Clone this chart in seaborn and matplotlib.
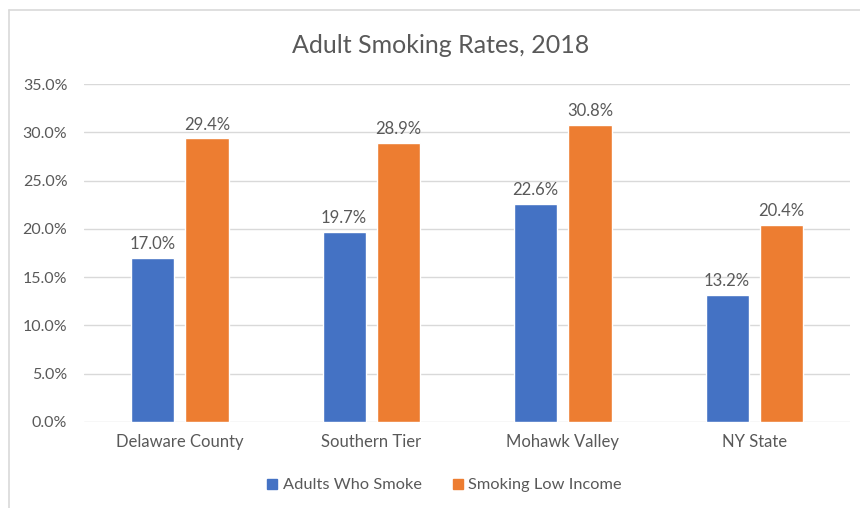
import seaborn as sns
import pandas as pd
import matplotlib.pyplot as plt
from matplotlib.lines import Line2D
from matplotlib.ticker import PercentFormatter

# data
regions = ["Delaware County", "Southern Tier", "Mohawk Valley", "NY State"]
adults_who_smoke = [17.0, 19.7, 22.6, 13.2]
smoking_low_income = [29.4, 28.9, 30.8, 20.4]
series = ["Adults Who Smoke", "Smoking Low Income"]
colors = ["#4472C4", "#ED7D31"]

rows = []
for i, reg in enumerate(regions):
    rows.append({"Region": reg, "Series": series[0], "Rate": adults_who_smoke[i]})
    rows.append({"Region": reg, "Series": series[1], "Rate": smoking_low_income[i]})
df = pd.DataFrame(rows)

sns.set_style("white")
plt.rcParams['font.family'] = ['Lato', 'DejaVu Sans']
gray = "#595959"

fig = plt.figure(figsize=(8.6, 5.08), dpi=100)
ax = fig.add_axes([0.0977, 0.1693, 0.8907, 0.6653])

sns.barplot(data=df, x="Region", y="Rate", hue="Series", palette=colors,
            width=0.569, gap=0.21, ax=ax, legend=False, saturation=1)

for cont in ax.containers:
    ax.bar_label(cont, fmt="%.1f%%", padding=4, color=gray, fontsize=12)

ax.set_ylim(0, 35)
ax.set_yticks([0, 5, 10, 15, 20, 25, 30, 35])
ax.yaxis.set_major_formatter(PercentFormatter(decimals=1))
ax.set_xlim(-0.5, 3.5)
ax.grid(axis="y", color="#D9D9D9", linewidth=1)
ax.set_axisbelow(True)
for s in ax.spines.values():
    s.set_visible(False)
ax.set_xlabel("")
ax.set_ylabel("")
ax.tick_params(axis="both", colors=gray, labelsize=11.5, length=0)
ax.tick_params(axis="y", pad=12)
ax.tick_params(axis="x", pad=9)
for lbl in ax.get_xticklabels():
    lbl.set_fontsize(12)

fig.text(0.512, 0.911, "Adult Smoking Rates, 2018", ha="center", va="center",
         fontsize=18, color=gray)

handles = [Line2D([], [], marker="s", linestyle="", markersize=7.5,
                  markerfacecolor=c, markeredgecolor=c) for c in colors]
fig.legend(handles, series, loc="center", bbox_to_anchor=(0.515, 0.045), ncol=2,
           frameon=False, fontsize=11.8, labelcolor=gray, handletextpad=0.15,
           handlelength=1.0, columnspacing=1.7)

# chart border (left and top edges visible)
fig.add_artist(Line2D([0.0105, 0.0105], [0, 0.98], color="#D9D9D9", linewidth=1.2,
                      transform=fig.transFigure))
fig.add_artist(Line2D([0.0105, 1.0], [0.98, 0.98], color="#D9D9D9", linewidth=1.2,
                      transform=fig.transFigure))

fig.savefig("out.png", dpi=100, facecolor="white")
